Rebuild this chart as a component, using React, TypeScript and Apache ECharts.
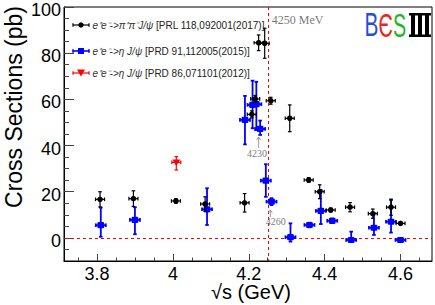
import React, { useEffect, useRef } from 'react';
import * as echarts from 'echarts';

const FONT = '"Liberation Sans", Arial, Helvetica, sans-serif';
const SERIF = '"Liberation Serif", "Times New Roman", serif';

// ---- axis ranges / ticks ----
const X_MIN = 3.713;
const X_MAX = 4.683;
const Y_MIN = -10;
const Y_MAX = 100;
const xMajorTicks = [3.8, 4.0, 4.2, 4.4, 4.6];
const xMinorTicks = [3.75, 3.85, 3.9, 3.95, 4.05, 4.1, 4.15, 4.25, 4.3, 4.35, 4.45, 4.5, 4.55, 4.65];
const yMajorTicks = [0, 20, 40, 60, 80, 100];
const yMinorTicks = [-5, 5, 10, 15, 25, 30, 35, 45, 50, 55, 65, 70, 75, 85, 90, 95];
const xTitle = '\u221As (GeV)';
const yTitle = 'Cross Sections (pb)';

// ---- e+e- -> pi+pi- J/psi  [PRL 118,092001(2017)] ----
const blackEnergy = [3.808, 3.896, 4.008, 4.085, 4.189, 4.208, 4.217, 4.226, 4.242, 4.258, 4.308, 4.358, 4.387, 4.416, 4.467, 4.527, 4.575, 4.600];
const blackValue = [16.7, 17.0, 16.0, 14.7, 15.2, 53.5, 60.2, 84.5, 84.3, 59.4, 51.8, 25.1, 20.0, 12.1, 13.3, 10.5, 13.3, 6.3];
const blackError = [3.3, 3.4, 1.0, 3.1, 4.0, 1.5, 1.5, 3.4, 6.5, 1.5, 5.8, 1.0, 3.0, 0.8, 2.0, 2.0, 3.5, 0.6];

// ---- e+e- -> eta J/psi  [PRD 91,112005(2015)] ----
const blueEnergy = [3.810, 3.900, 4.090, 4.190, 4.210, 4.220, 4.230, 4.245, 4.260, 4.310, 4.360, 4.390, 4.420, 4.470, 4.530, 4.575, 4.600];
const blueValue = [5.5, 7.8, 12.4, 51.1, 57.6, 57.9, 47.2, 24.8, 15.7, 0.3, 5.6, 11.7, 7.4, -0.9, 4.4, 7.0, -0.9];
const blueErrUp = [7.6, 5.5, 9.1, 10.4, 10.5, 9.7, 3.6, 7.1, 1.5, 6.0, 1.0, 9.0, 1.0, 3.6, 6.3, 9.4, 0.5];
const blueErrDown = [5.0, 6.2, 6.8, 10.6, 10.1, 11.2, 2.6, 7.0, 1.5, 1.9, 1.0, 5.7, 1.0, 0.3, 3.1, 4.7, 0.5];

// ---- e+e- -> eta J/psi  [PRD 86,071101(2012)] ----
const redEnergy = [4.009];
const redValue = [32.7];
const redErrUp = [2.5];
const redErrDown = [3.3];

// ---- annotations ----
const thresholdEnergy = 4.25;
const zeroLevel = 0;
const annotationLabels = ['4250 MeV', '4230', '4260'];
const annotationPos = [[4.2605, 94.4], [4.222, 36.6], [4.271, 7.0]];
const arrowFrom = [[4.226, 38.9], [4.257, 9.0]];
const arrowTo = [[4.226, 43.7], [4.257, 12.1]];

const legendTexts = [
  '{i|e\u207Ae\u207B->\u03C0\u207A\u03C0\u207BJ/\u03C8} [PRL 118,092001(2017)]',
  '{i|e\u207Ae\u207B->\u03B7 J/\u03C8} [PRD 91,112005(2015)]',
  '{i|e\u207Ae\u207B->\u03B7 J/\u03C8} [PRD 86,071101(2012)]',
];

function buildData(e: number[], v: number[], up: number[], dn: number[]) {
  return e.map((x, i) => [x, v[i], v[i] - dn[i], v[i] + up[i]]);
}

function makeRender(kind: string, color: string, lw: number, hw: number) {
  return (params: any, api: any) => {
    const x = api.value(0);
    const y = api.value(1);
    const lo = api.value(2);
    const hi = api.value(3);
    const c = api.coord([x, y]);
    const cl = api.coord([x, lo]);
    const ch = api.coord([x, hi]);
    const cap = 1.8;
    const st = () => ({ stroke: color, lineWidth: lw });
    const children: any[] = [
      { type: 'line', shape: { x1: c[0], y1: cl[1], x2: c[0], y2: ch[1] }, style: st() },
      { type: 'line', shape: { x1: c[0] - cap, y1: cl[1], x2: c[0] + cap, y2: cl[1] }, style: st() },
      { type: 'line', shape: { x1: c[0] - cap, y1: ch[1], x2: c[0] + cap, y2: ch[1] }, style: st() },
      { type: 'line', shape: { x1: c[0] - hw, y1: c[1], x2: c[0] + hw, y2: c[1] }, style: st() },
      { type: 'line', shape: { x1: c[0] - hw, y1: c[1] - cap, x2: c[0] - hw, y2: c[1] + cap }, style: st() },
      { type: 'line', shape: { x1: c[0] + hw, y1: c[1] - cap, x2: c[0] + hw, y2: c[1] + cap }, style: st() },
    ];
    if (kind === 'circle') {
      children.push({ type: 'circle', shape: { cx: c[0], cy: c[1], r: 2.8 }, style: { fill: color } });
    } else if (kind === 'square') {
      children.push({ type: 'rect', shape: { x: c[0] - 3.4, y: c[1] - 3.1, width: 6.8, height: 6.2, r: 1.3 }, style: { fill: color } });
    } else {
      children.push({
        type: 'polygon',
        shape: { points: [[c[0] - 4, c[1] - 3], [c[0] + 4, c[1] - 3], [c[0], c[1] + 3.5]] },
        style: { fill: color },
      });
    }
    return { type: 'group', children };
  };
}

function renderRefLines(params: any, api: any) {
  const cs = params.coordSys;
  const p = api.coord([api.value(0), api.value(1)]);
  const vx = Math.round(p[0]) + 0.5;
  const hy = Math.round(p[1]) + 0.5;
  return {
    type: 'group',
    children: [
      { type: 'line', shape: { x1: vx, y1: cs.y, x2: vx, y2: cs.y + cs.height }, style: { stroke: '#ff0000', lineWidth: 1, lineDash: [3, 3] } },
      { type: 'line', shape: { x1: cs.x + 1, y1: hy, x2: cs.x + cs.width, y2: hy }, style: { stroke: '#ff0000', lineWidth: 1, lineDash: [3, 3] } },
    ],
  };
}

function renderArrows(params: any, api: any) {
  const a = api.coord([api.value(0), api.value(1)]);
  const b = api.coord([api.value(2), api.value(3)]);
  return {
    type: 'group',
    children: [
      { type: 'line', shape: { x1: a[0], y1: a[1], x2: b[0], y2: b[1] }, style: { stroke: '#888', lineWidth: 0.8 } },
      { type: 'polyline', shape: { points: [[b[0] - 2, b[1] + 3], [b[0], b[1]], [b[0] + 2, b[1] + 3]] }, style: { stroke: '#888', lineWidth: 0.8, fill: 'none' } },
    ],
  };
}

export default function App() {
  const ref = useRef<HTMLDivElement>(null);

  useEffect(() => {
    document.body.style.margin = '0';
    if (!ref.current) return;
    const chart = echarts.init(ref.current, undefined, { renderer: 'svg' });

    const legendRows = [25, 51, 73];
    const legendColors = ['#000000', '#0000ff', '#ff0000'];
    const legendGraphics: any[] = [];
    legendRows.forEach((yy, i) => {
      const col = legendColors[i];
      const lw = i === 1 ? 1.6 : 1.2;
      legendGraphics.push({ type: 'line', shape: { x1: 73, y1: yy, x2: 89, y2: yy }, style: { stroke: col, lineWidth: lw } });
      legendGraphics.push({ type: 'line', shape: { x1: 73, y1: yy - 1.8, x2: 73, y2: yy + 1.8 }, style: { stroke: col, lineWidth: lw } });
      legendGraphics.push({ type: 'line', shape: { x1: 89, y1: yy - 1.8, x2: 89, y2: yy + 1.8 }, style: { stroke: col, lineWidth: lw } });
      if (i === 0) legendGraphics.push({ type: 'circle', shape: { cx: 81, cy: yy, r: 2.7 }, style: { fill: col } });
      if (i === 1) legendGraphics.push({ type: 'rect', shape: { x: 78, y: yy - 3, width: 6, height: 6 }, style: { fill: col } });
      if (i === 2)
        legendGraphics.push({ type: 'polygon', shape: { points: [[77, yy - 3.5], [85, yy - 3.5], [81, yy + 3.5]] }, style: { fill: col } });
      legendGraphics.push({
        type: 'text',
        x: 92.5,
        y: yy,
        style: {
          text: legendTexts[i],
          fontSize: 10,
          fontFamily: FONT,
          fill: '#222',
          align: 'left',
          verticalAlign: 'middle',
          rich: { i: { fontStyle: 'italic', fontSize: 10, fontFamily: FONT, fill: '#333' } },
        },
      });
    });

    const logo: any[] = [
      { type: 'text', x: 364.5, y: 25, scaleX: 0.63, style: { text: 'B', fontSize: 33, fontFamily: FONT, fill: '#1f4fe0', align: 'left', verticalAlign: 'middle' } },
      { type: 'text', x: 378.5, y: 25, scaleX: 0.6, style: { text: '\u0404', fontSize: 33, fontFamily: FONT, fill: '#ee2222', align: 'left', verticalAlign: 'middle' } },
      { type: 'text', x: 393, y: 25, scaleX: 0.6, style: { text: 'S', fontSize: 33, fontFamily: FONT, fill: '#1fb81f', align: 'left', verticalAlign: 'middle' } },
      { type: 'rect', shape: { x: 409, y: 13, width: 22, height: 2.5 }, style: { fill: '#000' } },
      { type: 'rect', shape: { x: 409, y: 34.5, width: 22, height: 2.5 }, style: { fill: '#000' } },
      { type: 'rect', shape: { x: 411, y: 13, width: 4, height: 24 }, style: { fill: '#000' } },
      { type: 'rect', shape: { x: 418, y: 13, width: 4, height: 24 }, style: { fill: '#000' } },
      { type: 'rect', shape: { x: 425, y: 13, width: 4, height: 24 }, style: { fill: '#000' } },
    ];

    const option: any = {
      animation: false,
      backgroundColor: '#ffffff',
      grid: {
        left: 64, right: 3, top: 7, bottom: 44,
        containLabel: false, outerBoundsMode: 'none',
        show: true, borderColor: '#000', borderWidth: 1, backgroundColor: 'transparent',
      },
      xAxis: [
        {
          type: 'value', min: X_MIN, max: X_MAX, position: 'bottom',
          axisLine: { show: true, onZero: false, lineStyle: { color: '#000', width: 1 } },
          axisTick: { show: true, inside: true, length: 7, customValues: xMajorTicks, lineStyle: { color: '#444' } },
          axisLabel: {
            customValues: xMajorTicks,
            formatter: (v: number) => String(Math.round(v * 10) / 10),
            fontSize: 18, fontFamily: FONT, color: '#000', margin: 4,
          },
          splitLine: { show: false },
        },
        {
          type: 'value', min: X_MIN, max: X_MAX, position: 'bottom',
          axisLine: { show: false, onZero: false },
          axisTick: { show: true, inside: true, length: 3.5, customValues: xMinorTicks, lineStyle: { color: '#444' } },
          axisLabel: { show: false },
          splitLine: { show: false },
        },
      ],
      yAxis: [
        {
          type: 'value', min: Y_MIN, max: Y_MAX, position: 'left',
          axisLine: { show: true, onZero: false, lineStyle: { color: '#000', width: 1 } },
          axisTick: { show: true, inside: true, length: 10, customValues: yMajorTicks, lineStyle: { color: '#444' } },
          axisLabel: {
            customValues: yMajorTicks, color: '#000', margin: 3,
            formatter: (v: number) => '{v|' + v + '}',
            rich: { v: { fontSize: 18, fontFamily: FONT, color: '#000', padding: [6, 0, 0, 0] } },
          },
          splitLine: { show: false },
        },
        {
          type: 'value', min: Y_MIN, max: Y_MAX, position: 'left',
          axisLine: { show: false, onZero: false },
          axisTick: { show: true, inside: true, length: 5, customValues: yMinorTicks, lineStyle: { color: '#444' } },
          axisLabel: { show: false },
          splitLine: { show: false },
        },
      ],
      graphic: [
        {
          type: 'text', x: 14, y: 107, rotation: Math.PI / 2,
          style: { text: yTitle, fontSize: 23, fontFamily: FONT, fill: '#000', align: 'center', verticalAlign: 'middle' },
        },
        {
          type: 'text', x: 251, y: 292,
          style: { text: xTitle, fontSize: 20, fontFamily: FONT, fill: '#000', align: 'center', verticalAlign: 'middle' },
        },
        ...legendGraphics,
        ...logo,
      ],
      series: [
        {
          type: 'custom', name: 'reference lines', xAxisIndex: 0, yAxisIndex: 0,
          renderItem: renderRefLines, silent: true, z: 2,
          data: [[thresholdEnergy, zeroLevel]],
          encode: { x: 0, y: 1 },
        },
        {
          type: 'custom', name: 'etaJpsi2015', xAxisIndex: 0, yAxisIndex: 0,
          renderItem: makeRender('square', '#0000ff', 1.8, 5),
          data: buildData(blueEnergy, blueValue, blueErrUp, blueErrDown),
          encode: { x: 0, y: 1 }, z: 3,
        },
        {
          type: 'custom', name: 'pipiJpsi2017', xAxisIndex: 0, yAxisIndex: 0,
          renderItem: makeRender('circle', '#000000', 1.2, 4.5),
          data: buildData(blackEnergy, blackValue, blackError, blackError),
          encode: { x: 0, y: 1 }, z: 4,
        },
        {
          type: 'custom', name: 'etaJpsi2012', xAxisIndex: 0, yAxisIndex: 0,
          renderItem: makeRender('tri', '#ff0000', 1.2, 4.5),
          data: buildData(redEnergy, redValue, redErrUp, redErrDown),
          encode: { x: 0, y: 1 }, z: 4,
        },
        {
          type: 'custom', name: 'arrows', xAxisIndex: 0, yAxisIndex: 0,
          renderItem: renderArrows, silent: true, z: 5,
          data: arrowFrom.map((f, i) => [f[0], f[1], arrowTo[i][0], arrowTo[i][1]]),
          encode: { x: 0, y: 1 },
        },
        {
          type: 'scatter', name: 'annotations', xAxisIndex: 0, yAxisIndex: 0,
          symbolSize: 0, silent: true, z: 5,
          data: annotationLabels.map((n, i) => ({
            name: n,
            value: annotationPos[i],
            label: i === 0 ? { position: 'right', distance: 0, fontSize: 12 } : { position: 'inside' },
          })),
          label: { show: true, formatter: '{b}', fontSize: 10, fontFamily: SERIF, color: '#555' },
        },
      ],
    };

    chart.setOption(option);
    return () => chart.dispose();
  }, []);

  return <div ref={ref} style={{ width: 435, height: 305 }} />;
}
